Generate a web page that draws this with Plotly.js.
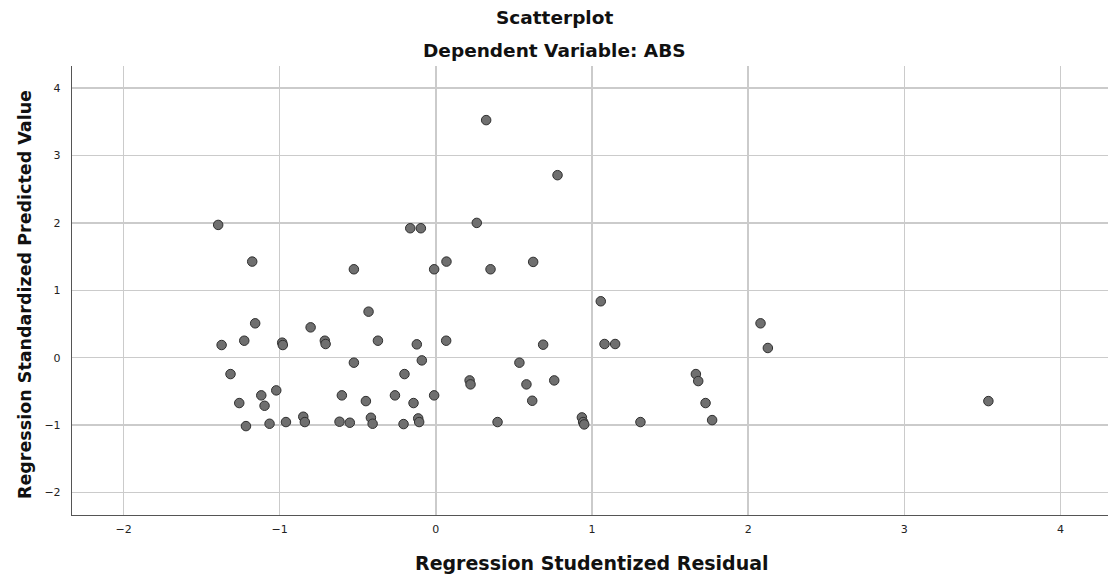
<!DOCTYPE html>
<html>
<head>
<meta charset="utf-8">
<script src="https://cdn.plot.ly/plotly-3.0.1.min.js"></script>
<style>html,body{margin:0;padding:0;background:#fff;}#chart{width:1108px;height:577px;}</style>
</head>
<body>
<div id="chart"></div>
<script>
const residual = [
  -1.394, -1.176, -0.525, -0.164, -0.096, -0.011, 0.068,
  0.322, 0.779, 0.262, 0.350, 0.623,
  -1.372, -1.315, -1.259, -1.216, -1.227, -1.157, -1.118, -1.097, -1.065, -1.022,
  -0.984, -0.980, -0.960, -0.849, -0.839, -0.802, -0.711, -0.706, -0.617, -0.602,
  -0.551, -0.525, -0.448, -0.431, -0.416, -0.405, -0.371, -0.262, -0.207, -0.201,
  -0.143, -0.122, -0.113, -0.107, -0.090, -0.011, 0.066,
  1.056, 0.216, 0.222, 0.395, 0.535, 0.580, 0.617, 0.687, 0.758, 0.935, 0.943,
  0.950, 1.080, 1.148, 1.310, 1.665, 1.680, 1.727, 1.769, 2.079, 2.126, 3.538
];
const predicted = [
  1.970, 1.426, 1.312, 1.921, 1.921, 1.312, 1.426,
  3.525, 2.708, 2.000, 1.312, 1.421,
  0.188, -0.243, -0.673, -1.015, 0.252, 0.510, -0.559, -0.713, -0.980, -0.485,
  0.223, 0.188, -0.955, -0.876, -0.955, 0.450, 0.252, 0.203, -0.950, -0.559,
  -0.965, -0.074, -0.644, 0.683, -0.891, -0.980, 0.252, -0.559, -0.985, -0.243,
  -0.673, 0.198, -0.901, -0.955, -0.040, -0.559, 0.252,
  0.837, -0.337, -0.396, -0.955, -0.074, -0.396, -0.639, 0.193, -0.337, -0.886, -0.955,
  -0.990, 0.203, 0.203, -0.955, -0.243, -0.347, -0.673, -0.926, 0.510, 0.144, -0.644
];
const xTicks = [-2, -1, 0, 1, 2, 3, 4];
const yTicks = [-2, -1, 0, 1, 2, 3, 4];
const titleMain = 'Scatterplot';
const titleSub = 'Dependent Variable: ABS';
const xLabel = 'Regression Studentized Residual';
const yLabel = 'Regression Standardized Predicted Value';

const fam = 'DejaVu Sans, Verdana, sans-serif';
const fmt = v => v < 0 ? '\u2212' + Math.abs(v) : String(v);
const trace = {
  x: residual, y: predicted, type: 'scatter', mode: 'markers',
  marker: {size: 9.5, color: '#6f6f6f', line: {color: '#2f2f2f', width: 1}},
  hoverinfo: 'x+y'
};
const tfont = {family: fam, size: 18.5, color: '#111'};
const layout = {
  width: 1108, height: 577,
  margin: {l: 72, r: 0, t: 66, b: 62},
  paper_bgcolor: '#fff', plot_bgcolor: '#fff',
  showlegend: false,
  font: {family: fam, size: 11, color: '#222'},
  xaxis: {
    range: [-2.330, 4.304], tickvals: xTicks, ticktext: xTicks.map(fmt),
    showgrid: true, gridcolor: '#cbcbcb', gridwidth: 1.5, zeroline: false,
    showline: true, linecolor: '#555', linewidth: 1.2, ticks: '',
    ticklabelstandoff: 4,
    tickfont: {family: fam, size: 11, color: '#222'}
  },
  yaxis: {
    range: [-2.334, 4.328], tickvals: yTicks, ticktext: yTicks.map(fmt),
    showgrid: true, gridcolor: '#cbcbcb', gridwidth: 1.5, zeroline: false,
    showline: true, linecolor: '#555', linewidth: 1.2, ticks: '',
    ticklabelstandoff: 8,
    tickfont: {family: fam, size: 11, color: '#222'}
  },
  annotations: [
    {text: '<b>' + titleMain + '</b>', xref: 'paper', yref: 'paper', x: 0.4653, y: 1, yshift: 49, xanchor: 'center', yanchor: 'middle', showarrow: false, font: tfont},
    {text: '<b>' + titleSub + '</b>', xref: 'paper', yref: 'paper', x: 0.4653, y: 1, yshift: 16, xanchor: 'center', yanchor: 'middle', showarrow: false, font: tfont},
    {text: '<b>' + xLabel + '</b>', xref: 'paper', yref: 'paper', x: 0.5, y: 0, xshift: 1.5, yshift: -48, xanchor: 'center', yanchor: 'middle', showarrow: false, font: {family: fam, size: 19, color: '#111'}},
    {text: '<b>' + yLabel + '</b>', xref: 'paper', yref: 'paper', x: 0, y: 0.5, xshift: -47, yshift: -4.5, xanchor: 'center', yanchor: 'middle', textangle: -90, showarrow: false, font: {family: fam, size: 17.5, color: '#111'}}
  ]
};
Plotly.newPlot('chart', [trace], layout, {displayModeBar: false, staticPlot: true});
</script>
</body>
</html>
